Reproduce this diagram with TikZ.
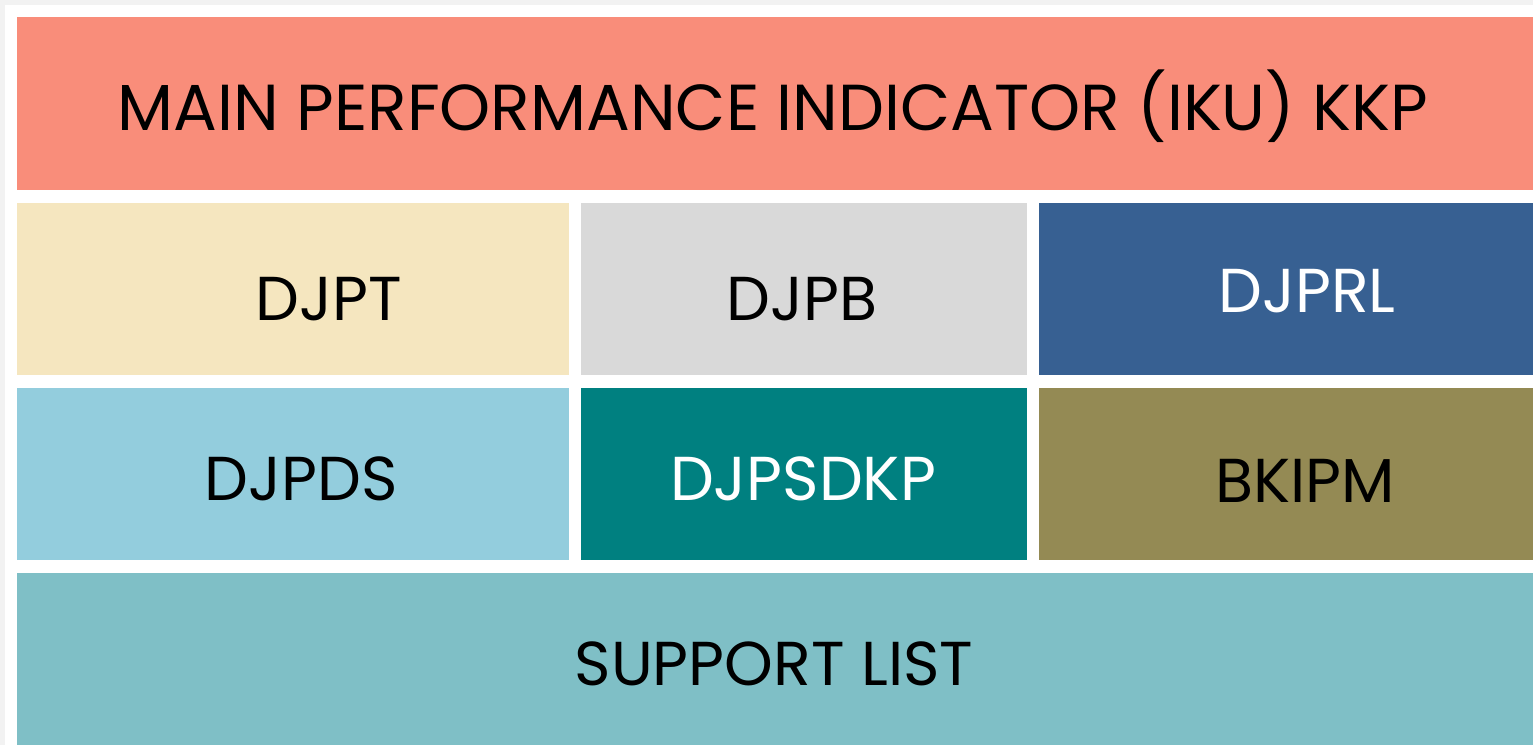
\documentclass[tikz,border=0pt]{standalone}
\usepackage{fontspec}
\setmainfont{Poppins}
\usepackage{tikz}
\usetikzlibrary{positioning}
\definecolor{pagegray}{RGB}{242, 242, 242}
\definecolor{ikusalmon}{RGB}{249, 141, 122}
\definecolor{djptcream}{RGB}{245, 230, 191}
\definecolor{djpbgray}{RGB}{217, 217, 217}
\definecolor{djprlblue}{RGB}{55, 96, 146}
\definecolor{djpdsblue}{RGB}{147, 205, 221}
\definecolor{djpsdkpteal}{RGB}{0, 128, 128}
\definecolor{bkipmolive}{RGB}{148, 138, 84}
\definecolor{supportteal}{RGB}{127, 191, 198}

\begin{document}
\begin{tikzpicture}[x=1pt, y=-1pt,
    celltext/.style={anchor=base, inner sep=0pt, font=\fontsize{62}{70}\selectfont}]
    % Page and panel
    \useasboundingbox (0,0) rectangle (1533,745);
    \fill[pagegray] (0,0) rectangle (1533,745);
    \fill[white] (5,5) rectangle (1533,745);
    
    % Header
    \fill[ikusalmon] (17,17) rectangle (1533,190);
    \node[celltext, font=\fontsize{65}{72}\selectfont] (iku) at (773,130) {MAIN PERFORMANCE INDICATOR (IKU) KKP};
    
    % First row of units
    \fill[djptcream] (17,203) rectangle (569,375);
    \node[celltext] (djpt) at (329,320) {DJPT};
    
    \fill[djpbgray] (581,203) rectangle (1027,375);
    \node[celltext] (djpb) at (802,320) {DJPB};
    
    \fill[djprlblue] (1039,203) rectangle (1533,375);
    \node[celltext, white] (djprl) at (1307,312) {DJPRL};
    
    % Second row of units
    \fill[djpdsblue] (17,388) rectangle (569,560);
    \node[celltext] (djpds) at (301,500) {DJPDS};
    
    \fill[djpsdkpteal] (581,388) rectangle (1027,560);
    \node[celltext, white] (djpsdkp) at (803,500) {DJPSDKP};
    
    \fill[bkipmolive] (1039,388) rectangle (1533,560);
    \node[celltext] (bkipm) at (1305,502) {BKIPM};
    
    % Footer
    \fill[supportteal] (17,573) rectangle (1533,745);
    \node[celltext] (support) at (774,685) {SUPPORT LIST};
    
\end{tikzpicture}
\end{document}
